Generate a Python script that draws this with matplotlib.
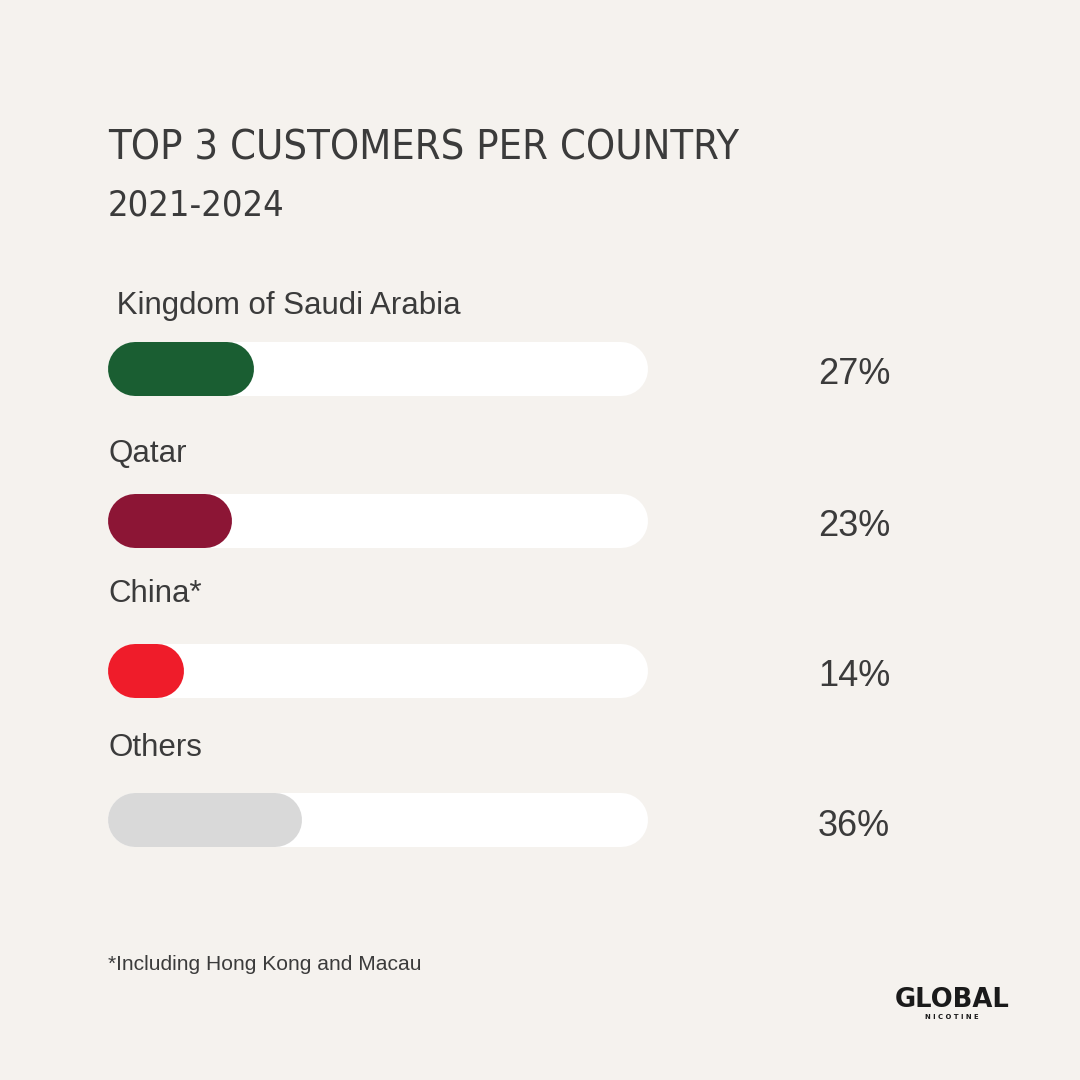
import matplotlib
matplotlib.use("Agg")
import matplotlib.pyplot as plt

# ---- data ----
categories = [" Kingdom of Saudi Arabia", "Qatar", "China*", "Others"]
shares = [27, 23, 14, 36]
value_labels = ["27%", "23%", "14%", "36%"]
bar_colors = ["#1a5e32", "#8c1535", "#ef1c2a", "#d9d9d9"]
title = "TOP 3 CUSTOMERS PER COUNTRY"
subtitle = "2021-2024"
footnote = "*Including Hong Kong and Macau"

# ---- layout (pixels on a 1080 canvas) ----
BG = "#f5f2ee"
TXT = "#3b3b3b"
row_y = [369, 521, 671, 820]
label_y = [306, 454, 594, 748]
track_left, track_right = 108, 648
bar_h = 54

fig = plt.figure(figsize=(10.8, 10.8), dpi=100, facecolor=BG)
ax = fig.add_axes([0, 0, 1, 1])
ax.set_facecolor(BG)
ppu = (track_right - track_left) / 100.0  # pixels per percent
ax.set_xlim(-track_left / ppu, (1080 - track_left) / ppu)
ax.set_ylim(1080, 0)
ax.axis("off")

renderer = fig.canvas.get_renderer()


def fit_width(t, target_px):
    w = t.get_window_extent(renderer=renderer).width
    t.set_fontsize(t.get_fontsize() * target_px / w)


lw_pt = bar_h * 72 / 100.0
r = (bar_h / 2) / ppu  # cap radius in data units
SANS = ["Liberation Sans", "DejaVu Sans"]

for i, (cat, v, lab, col) in enumerate(zip(categories, shares, value_labels, bar_colors)):
    y = row_y[i]
    ax.plot([r, 100 - r], [y, y], color="white", lw=lw_pt, solid_capstyle="round", zorder=1)
    ax.plot([r, v - r], [y, y], color=col, lw=lw_pt, solid_capstyle="round", zorder=2)
    ax.text(0, label_y[i], cat, fontsize=22.5, family=SANS,
            color=TXT, ha="left", va="center")
    ax.text((818 - track_left) / ppu, y + 6, lab, fontsize=26, family=SANS,
            color=TXT, ha="left", va="center")

# title
COND = ["DejaVu Sans"]
t1 = fig.text(108 / 1080, 1 - 159 / 1080, title, fontsize=41, family=COND,
              fontstretch="condensed", color=TXT, ha="left", va="baseline")
fit_width(t1, 630)
t2 = fig.text(108 / 1080, 1 - 216 / 1080, subtitle, fontsize=32, family=COND,
              fontstretch="condensed", color=TXT, ha="left", va="baseline")
fit_width(t2, 176)

# footnote
t3 = fig.text(108 / 1080, 1 - 965 / 1080, footnote, fontsize=15,
              family=SANS, color=TXT, ha="left", va="center")
fit_width(t3, 314)

# logo
t4 = fig.text(952 / 1080, 1 - 1000 / 1080, "GLOBAL", fontsize=15, fontweight="heavy",
              family=["DejaVu Sans"], color="#1a1a1a", ha="center", va="center")
fit_width(t4, 115)
t5 = fig.text(952 / 1080, 1 - 1017 / 1080, "N I C O T I N E", fontsize=4.5, fontweight="bold",
              family=["DejaVu Sans"], color="#1a1a1a", ha="center", va="center")
fit_width(t5, 53)

fig.savefig("out.png", dpi=100, facecolor=BG)
